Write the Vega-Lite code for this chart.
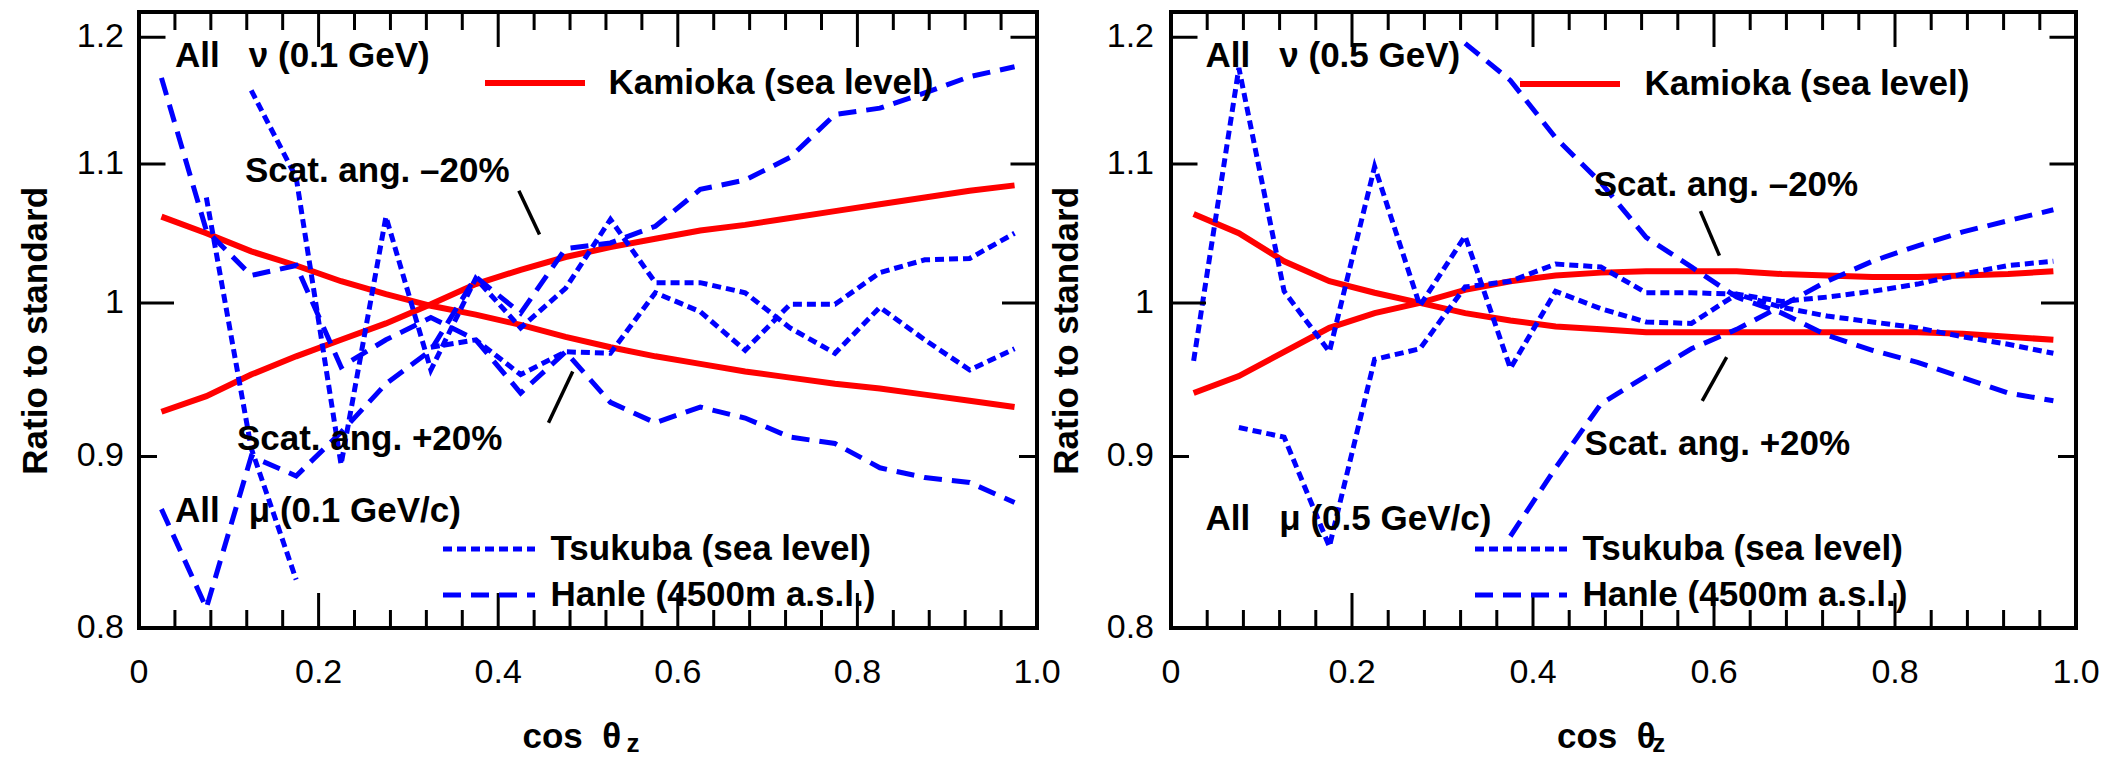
{
 "$schema": "https://vega.github.io/schema/vega-lite/v6.json",
 "background": "white",
 "padding": {"left": 16, "top": 10, "right": 30, "bottom": 0},
 "datasets": {
  "c": [
   {"p":"L","s":"Kamioka (sea level)","id":"K1","x":0.025,"y":0.928},
   {"p":"L","s":"Kamioka (sea level)","id":"K1","x":0.075,"y":0.938},
   {"p":"L","s":"Kamioka (sea level)","id":"K1","x":0.125,"y":0.952},
   {"p":"L","s":"Kamioka (sea level)","id":"K1","x":0.175,"y":0.964},
   {"p":"L","s":"Kamioka (sea level)","id":"K1","x":0.225,"y":0.975},
   {"p":"L","s":"Kamioka (sea level)","id":"K1","x":0.275,"y":0.986},
   {"p":"L","s":"Kamioka (sea level)","id":"K1","x":0.325,"y":0.999},
   {"p":"L","s":"Kamioka (sea level)","id":"K1","x":0.375,"y":1.013},
   {"p":"L","s":"Kamioka (sea level)","id":"K1","x":0.425,"y":1.023},
   {"p":"L","s":"Kamioka (sea level)","id":"K1","x":0.475,"y":1.032},
   {"p":"L","s":"Kamioka (sea level)","id":"K1","x":0.525,"y":1.039},
   {"p":"L","s":"Kamioka (sea level)","id":"K1","x":0.575,"y":1.045},
   {"p":"L","s":"Kamioka (sea level)","id":"K1","x":0.625,"y":1.051},
   {"p":"L","s":"Kamioka (sea level)","id":"K1","x":0.675,"y":1.055},
   {"p":"L","s":"Kamioka (sea level)","id":"K1","x":0.725,"y":1.060},
   {"p":"L","s":"Kamioka (sea level)","id":"K1","x":0.775,"y":1.065},
   {"p":"L","s":"Kamioka (sea level)","id":"K1","x":0.825,"y":1.070},
   {"p":"L","s":"Kamioka (sea level)","id":"K1","x":0.875,"y":1.075},
   {"p":"L","s":"Kamioka (sea level)","id":"K1","x":0.925,"y":1.080},
   {"p":"L","s":"Kamioka (sea level)","id":"K1","x":0.975,"y":1.084},
   {"p":"L","s":"Kamioka (sea level)","id":"K2","x":0.025,"y":1.061},
   {"p":"L","s":"Kamioka (sea level)","id":"K2","x":0.075,"y":1.049},
   {"p":"L","s":"Kamioka (sea level)","id":"K2","x":0.125,"y":1.036},
   {"p":"L","s":"Kamioka (sea level)","id":"K2","x":0.175,"y":1.026},
   {"p":"L","s":"Kamioka (sea level)","id":"K2","x":0.225,"y":1.015},
   {"p":"L","s":"Kamioka (sea level)","id":"K2","x":0.275,"y":1.006},
   {"p":"L","s":"Kamioka (sea level)","id":"K2","x":0.325,"y":0.998},
   {"p":"L","s":"Kamioka (sea level)","id":"K2","x":0.375,"y":0.992},
   {"p":"L","s":"Kamioka (sea level)","id":"K2","x":0.425,"y":0.985},
   {"p":"L","s":"Kamioka (sea level)","id":"K2","x":0.475,"y":0.977},
   {"p":"L","s":"Kamioka (sea level)","id":"K2","x":0.525,"y":0.970},
   {"p":"L","s":"Kamioka (sea level)","id":"K2","x":0.575,"y":0.964},
   {"p":"L","s":"Kamioka (sea level)","id":"K2","x":0.625,"y":0.959},
   {"p":"L","s":"Kamioka (sea level)","id":"K2","x":0.675,"y":0.954},
   {"p":"L","s":"Kamioka (sea level)","id":"K2","x":0.725,"y":0.950},
   {"p":"L","s":"Kamioka (sea level)","id":"K2","x":0.775,"y":0.946},
   {"p":"L","s":"Kamioka (sea level)","id":"K2","x":0.825,"y":0.943},
   {"p":"L","s":"Kamioka (sea level)","id":"K2","x":0.875,"y":0.939},
   {"p":"L","s":"Kamioka (sea level)","id":"K2","x":0.925,"y":0.935},
   {"p":"L","s":"Kamioka (sea level)","id":"K2","x":0.975,"y":0.931},
   {"p":"L","s":"Tsukuba (sea level)","id":"T2","x":0.125,"y":1.157},
   {"p":"L","s":"Tsukuba (sea level)","id":"T2","x":0.175,"y":1.090},
   {"p":"L","s":"Tsukuba (sea level)","id":"T2","x":0.225,"y":0.895},
   {"p":"L","s":"Tsukuba (sea level)","id":"T2","x":0.275,"y":1.061},
   {"p":"L","s":"Tsukuba (sea level)","id":"T2","x":0.325,"y":0.955},
   {"p":"L","s":"Tsukuba (sea level)","id":"T2","x":0.375,"y":1.017},
   {"p":"L","s":"Tsukuba (sea level)","id":"T2","x":0.425,"y":0.983},
   {"p":"L","s":"Tsukuba (sea level)","id":"T2","x":0.475,"y":1.010},
   {"p":"L","s":"Tsukuba (sea level)","id":"T2","x":0.525,"y":1.059},
   {"p":"L","s":"Tsukuba (sea level)","id":"T2","x":0.575,"y":1.014},
   {"p":"L","s":"Tsukuba (sea level)","id":"T2","x":0.625,"y":1.014},
   {"p":"L","s":"Tsukuba (sea level)","id":"T2","x":0.675,"y":1.007},
   {"p":"L","s":"Tsukuba (sea level)","id":"T2","x":0.725,"y":0.983},
   {"p":"L","s":"Tsukuba (sea level)","id":"T2","x":0.775,"y":0.966},
   {"p":"L","s":"Tsukuba (sea level)","id":"T2","x":0.825,"y":0.997},
   {"p":"L","s":"Tsukuba (sea level)","id":"T2","x":0.875,"y":0.975},
   {"p":"L","s":"Tsukuba (sea level)","id":"T2","x":0.925,"y":0.955},
   {"p":"L","s":"Tsukuba (sea level)","id":"T2","x":0.975,"y":0.969},
   {"p":"L","s":"Tsukuba (sea level)","id":"T1a","x":0.075,"y":1.075},
   {"p":"L","s":"Tsukuba (sea level)","id":"T1a","x":0.125,"y":0.905},
   {"p":"L","s":"Tsukuba (sea level)","id":"T1a","x":0.175,"y":0.827},
   {"p":"L","s":"Tsukuba (sea level)","id":"T1b","x":0.325,"y":0.970},
   {"p":"L","s":"Tsukuba (sea level)","id":"T1b","x":0.375,"y":0.975},
   {"p":"L","s":"Tsukuba (sea level)","id":"T1b","x":0.425,"y":0.952},
   {"p":"L","s":"Tsukuba (sea level)","id":"T1b","x":0.475,"y":0.967},
   {"p":"L","s":"Tsukuba (sea level)","id":"T1b","x":0.525,"y":0.966},
   {"p":"L","s":"Tsukuba (sea level)","id":"T1b","x":0.575,"y":1.007},
   {"p":"L","s":"Tsukuba (sea level)","id":"T1b","x":0.625,"y":0.994},
   {"p":"L","s":"Tsukuba (sea level)","id":"T1b","x":0.675,"y":0.968},
   {"p":"L","s":"Tsukuba (sea level)","id":"T1b","x":0.725,"y":0.999},
   {"p":"L","s":"Tsukuba (sea level)","id":"T1b","x":0.775,"y":0.999},
   {"p":"L","s":"Tsukuba (sea level)","id":"T1b","x":0.825,"y":1.021},
   {"p":"L","s":"Tsukuba (sea level)","id":"T1b","x":0.875,"y":1.030},
   {"p":"L","s":"Tsukuba (sea level)","id":"T1b","x":0.925,"y":1.031},
   {"p":"L","s":"Tsukuba (sea level)","id":"T1b","x":0.975,"y":1.049},
   {"p":"L","s":"Hanle (4500m a.s.l.)","id":"H1","x":0.025,"y":0.868},
   {"p":"L","s":"Hanle (4500m a.s.l.)","id":"H1","x":0.075,"y":0.811},
   {"p":"L","s":"Hanle (4500m a.s.l.)","id":"H1","x":0.125,"y":0.900},
   {"p":"L","s":"Hanle (4500m a.s.l.)","id":"H1","x":0.175,"y":0.888},
   {"p":"L","s":"Hanle (4500m a.s.l.)","id":"H1","x":0.225,"y":0.915},
   {"p":"L","s":"Hanle (4500m a.s.l.)","id":"H1","x":0.275,"y":0.946},
   {"p":"L","s":"Hanle (4500m a.s.l.)","id":"H1","x":0.325,"y":0.968},
   {"p":"L","s":"Hanle (4500m a.s.l.)","id":"H1","x":0.375,"y":1.018},
   {"p":"L","s":"Hanle (4500m a.s.l.)","id":"H1","x":0.425,"y":0.993},
   {"p":"L","s":"Hanle (4500m a.s.l.)","id":"H1","x":0.475,"y":1.038},
   {"p":"L","s":"Hanle (4500m a.s.l.)","id":"H1","x":0.525,"y":1.042},
   {"p":"L","s":"Hanle (4500m a.s.l.)","id":"H1","x":0.575,"y":1.054},
   {"p":"L","s":"Hanle (4500m a.s.l.)","id":"H1","x":0.625,"y":1.081},
   {"p":"L","s":"Hanle (4500m a.s.l.)","id":"H1","x":0.675,"y":1.088},
   {"p":"L","s":"Hanle (4500m a.s.l.)","id":"H1","x":0.725,"y":1.105},
   {"p":"L","s":"Hanle (4500m a.s.l.)","id":"H1","x":0.775,"y":1.138},
   {"p":"L","s":"Hanle (4500m a.s.l.)","id":"H1","x":0.825,"y":1.143},
   {"p":"L","s":"Hanle (4500m a.s.l.)","id":"H1","x":0.875,"y":1.155},
   {"p":"L","s":"Hanle (4500m a.s.l.)","id":"H1","x":0.925,"y":1.168},
   {"p":"L","s":"Hanle (4500m a.s.l.)","id":"H1","x":0.975,"y":1.176},
   {"p":"L","s":"Hanle (4500m a.s.l.)","id":"H2","x":0.025,"y":1.167},
   {"p":"L","s":"Hanle (4500m a.s.l.)","id":"H2","x":0.075,"y":1.051},
   {"p":"L","s":"Hanle (4500m a.s.l.)","id":"H2","x":0.125,"y":1.019},
   {"p":"L","s":"Hanle (4500m a.s.l.)","id":"H2","x":0.175,"y":1.026},
   {"p":"L","s":"Hanle (4500m a.s.l.)","id":"H2","x":0.225,"y":0.957},
   {"p":"L","s":"Hanle (4500m a.s.l.)","id":"H2","x":0.275,"y":0.975},
   {"p":"L","s":"Hanle (4500m a.s.l.)","id":"H2","x":0.325,"y":0.990},
   {"p":"L","s":"Hanle (4500m a.s.l.)","id":"H2","x":0.375,"y":0.975},
   {"p":"L","s":"Hanle (4500m a.s.l.)","id":"H2","x":0.425,"y":0.940},
   {"p":"L","s":"Hanle (4500m a.s.l.)","id":"H2","x":0.475,"y":0.967},
   {"p":"L","s":"Hanle (4500m a.s.l.)","id":"H2","x":0.525,"y":0.934},
   {"p":"L","s":"Hanle (4500m a.s.l.)","id":"H2","x":0.575,"y":0.921},
   {"p":"L","s":"Hanle (4500m a.s.l.)","id":"H2","x":0.625,"y":0.931},
   {"p":"L","s":"Hanle (4500m a.s.l.)","id":"H2","x":0.675,"y":0.924},
   {"p":"L","s":"Hanle (4500m a.s.l.)","id":"H2","x":0.725,"y":0.912},
   {"p":"L","s":"Hanle (4500m a.s.l.)","id":"H2","x":0.775,"y":0.908},
   {"p":"L","s":"Hanle (4500m a.s.l.)","id":"H2","x":0.825,"y":0.893},
   {"p":"L","s":"Hanle (4500m a.s.l.)","id":"H2","x":0.875,"y":0.887},
   {"p":"L","s":"Hanle (4500m a.s.l.)","id":"H2","x":0.925,"y":0.884},
   {"p":"L","s":"Hanle (4500m a.s.l.)","id":"H2","x":0.975,"y":0.872},
   {"p":"R","s":"Kamioka (sea level)","id":"K1","x":0.025,"y":0.940},
   {"p":"R","s":"Kamioka (sea level)","id":"K1","x":0.075,"y":0.951},
   {"p":"R","s":"Kamioka (sea level)","id":"K1","x":0.125,"y":0.967},
   {"p":"R","s":"Kamioka (sea level)","id":"K1","x":0.175,"y":0.983},
   {"p":"R","s":"Kamioka (sea level)","id":"K1","x":0.225,"y":0.993},
   {"p":"R","s":"Kamioka (sea level)","id":"K1","x":0.275,"y":1.000},
   {"p":"R","s":"Kamioka (sea level)","id":"K1","x":0.325,"y":1.009},
   {"p":"R","s":"Kamioka (sea level)","id":"K1","x":0.375,"y":1.015},
   {"p":"R","s":"Kamioka (sea level)","id":"K1","x":0.425,"y":1.019},
   {"p":"R","s":"Kamioka (sea level)","id":"K1","x":0.475,"y":1.021},
   {"p":"R","s":"Kamioka (sea level)","id":"K1","x":0.525,"y":1.022},
   {"p":"R","s":"Kamioka (sea level)","id":"K1","x":0.575,"y":1.022},
   {"p":"R","s":"Kamioka (sea level)","id":"K1","x":0.625,"y":1.022},
   {"p":"R","s":"Kamioka (sea level)","id":"K1","x":0.675,"y":1.020},
   {"p":"R","s":"Kamioka (sea level)","id":"K1","x":0.725,"y":1.019},
   {"p":"R","s":"Kamioka (sea level)","id":"K1","x":0.775,"y":1.018},
   {"p":"R","s":"Kamioka (sea level)","id":"K1","x":0.825,"y":1.018},
   {"p":"R","s":"Kamioka (sea level)","id":"K1","x":0.875,"y":1.019},
   {"p":"R","s":"Kamioka (sea level)","id":"K1","x":0.925,"y":1.020},
   {"p":"R","s":"Kamioka (sea level)","id":"K1","x":0.975,"y":1.022},
   {"p":"R","s":"Kamioka (sea level)","id":"K2","x":0.025,"y":1.063},
   {"p":"R","s":"Kamioka (sea level)","id":"K2","x":0.075,"y":1.049},
   {"p":"R","s":"Kamioka (sea level)","id":"K2","x":0.125,"y":1.029},
   {"p":"R","s":"Kamioka (sea level)","id":"K2","x":0.175,"y":1.015},
   {"p":"R","s":"Kamioka (sea level)","id":"K2","x":0.225,"y":1.007},
   {"p":"R","s":"Kamioka (sea level)","id":"K2","x":0.275,"y":1.000},
   {"p":"R","s":"Kamioka (sea level)","id":"K2","x":0.325,"y":0.993},
   {"p":"R","s":"Kamioka (sea level)","id":"K2","x":0.375,"y":0.988},
   {"p":"R","s":"Kamioka (sea level)","id":"K2","x":0.425,"y":0.984},
   {"p":"R","s":"Kamioka (sea level)","id":"K2","x":0.475,"y":0.982},
   {"p":"R","s":"Kamioka (sea level)","id":"K2","x":0.525,"y":0.980},
   {"p":"R","s":"Kamioka (sea level)","id":"K2","x":0.575,"y":0.980},
   {"p":"R","s":"Kamioka (sea level)","id":"K2","x":0.625,"y":0.980},
   {"p":"R","s":"Kamioka (sea level)","id":"K2","x":0.675,"y":0.980},
   {"p":"R","s":"Kamioka (sea level)","id":"K2","x":0.725,"y":0.980},
   {"p":"R","s":"Kamioka (sea level)","id":"K2","x":0.775,"y":0.980},
   {"p":"R","s":"Kamioka (sea level)","id":"K2","x":0.825,"y":0.980},
   {"p":"R","s":"Kamioka (sea level)","id":"K2","x":0.875,"y":0.979},
   {"p":"R","s":"Kamioka (sea level)","id":"K2","x":0.925,"y":0.977},
   {"p":"R","s":"Kamioka (sea level)","id":"K2","x":0.975,"y":0.975},
   {"p":"R","s":"Tsukuba (sea level)","id":"TA","x":0.025,"y":0.961},
   {"p":"R","s":"Tsukuba (sea level)","id":"TA","x":0.075,"y":1.175},
   {"p":"R","s":"Tsukuba (sea level)","id":"TA","x":0.125,"y":1.008},
   {"p":"R","s":"Tsukuba (sea level)","id":"TA","x":0.175,"y":0.967},
   {"p":"R","s":"Tsukuba (sea level)","id":"TA","x":0.225,"y":1.098},
   {"p":"R","s":"Tsukuba (sea level)","id":"TA","x":0.275,"y":0.998},
   {"p":"R","s":"Tsukuba (sea level)","id":"TA","x":0.325,"y":1.047},
   {"p":"R","s":"Tsukuba (sea level)","id":"TA","x":0.375,"y":0.956},
   {"p":"R","s":"Tsukuba (sea level)","id":"TA","x":0.425,"y":1.008},
   {"p":"R","s":"Tsukuba (sea level)","id":"TA","x":0.475,"y":0.996},
   {"p":"R","s":"Tsukuba (sea level)","id":"TA","x":0.525,"y":0.987},
   {"p":"R","s":"Tsukuba (sea level)","id":"TA","x":0.575,"y":0.986},
   {"p":"R","s":"Tsukuba (sea level)","id":"TA","x":0.625,"y":1.006},
   {"p":"R","s":"Tsukuba (sea level)","id":"TA","x":0.675,"y":1.001},
   {"p":"R","s":"Tsukuba (sea level)","id":"TA","x":0.725,"y":1.004},
   {"p":"R","s":"Tsukuba (sea level)","id":"TA","x":0.775,"y":1.008},
   {"p":"R","s":"Tsukuba (sea level)","id":"TA","x":0.825,"y":1.013},
   {"p":"R","s":"Tsukuba (sea level)","id":"TA","x":0.875,"y":1.020},
   {"p":"R","s":"Tsukuba (sea level)","id":"TA","x":0.925,"y":1.026},
   {"p":"R","s":"Tsukuba (sea level)","id":"TA","x":0.975,"y":1.029},
   {"p":"R","s":"Tsukuba (sea level)","id":"TB","x":0.075,"y":0.918},
   {"p":"R","s":"Tsukuba (sea level)","id":"TB","x":0.125,"y":0.912},
   {"p":"R","s":"Tsukuba (sea level)","id":"TB","x":0.175,"y":0.846},
   {"p":"R","s":"Tsukuba (sea level)","id":"TB","x":0.225,"y":0.962},
   {"p":"R","s":"Tsukuba (sea level)","id":"TB","x":0.275,"y":0.969},
   {"p":"R","s":"Tsukuba (sea level)","id":"TB","x":0.325,"y":1.011},
   {"p":"R","s":"Tsukuba (sea level)","id":"TB","x":0.375,"y":1.015},
   {"p":"R","s":"Tsukuba (sea level)","id":"TB","x":0.425,"y":1.027},
   {"p":"R","s":"Tsukuba (sea level)","id":"TB","x":0.475,"y":1.025},
   {"p":"R","s":"Tsukuba (sea level)","id":"TB","x":0.525,"y":1.007},
   {"p":"R","s":"Tsukuba (sea level)","id":"TB","x":0.575,"y":1.007},
   {"p":"R","s":"Tsukuba (sea level)","id":"TB","x":0.625,"y":1.006},
   {"p":"R","s":"Tsukuba (sea level)","id":"TB","x":0.675,"y":0.997},
   {"p":"R","s":"Tsukuba (sea level)","id":"TB","x":0.725,"y":0.991},
   {"p":"R","s":"Tsukuba (sea level)","id":"TB","x":0.775,"y":0.987},
   {"p":"R","s":"Tsukuba (sea level)","id":"TB","x":0.825,"y":0.983},
   {"p":"R","s":"Tsukuba (sea level)","id":"TB","x":0.875,"y":0.977},
   {"p":"R","s":"Tsukuba (sea level)","id":"TB","x":0.925,"y":0.972},
   {"p":"R","s":"Tsukuba (sea level)","id":"TB","x":0.975,"y":0.966},
   {"p":"R","s":"Hanle (4500m a.s.l.)","id":"H1","x":0.375,"y":0.852},
   {"p":"R","s":"Hanle (4500m a.s.l.)","id":"H1","x":0.425,"y":0.893},
   {"p":"R","s":"Hanle (4500m a.s.l.)","id":"H1","x":0.475,"y":0.933},
   {"p":"R","s":"Hanle (4500m a.s.l.)","id":"H1","x":0.525,"y":0.951},
   {"p":"R","s":"Hanle (4500m a.s.l.)","id":"H1","x":0.575,"y":0.969},
   {"p":"R","s":"Hanle (4500m a.s.l.)","id":"H1","x":0.625,"y":0.982},
   {"p":"R","s":"Hanle (4500m a.s.l.)","id":"H1","x":0.675,"y":0.998},
   {"p":"R","s":"Hanle (4500m a.s.l.)","id":"H1","x":0.725,"y":1.015},
   {"p":"R","s":"Hanle (4500m a.s.l.)","id":"H1","x":0.775,"y":1.029},
   {"p":"R","s":"Hanle (4500m a.s.l.)","id":"H1","x":0.825,"y":1.040},
   {"p":"R","s":"Hanle (4500m a.s.l.)","id":"H1","x":0.875,"y":1.050},
   {"p":"R","s":"Hanle (4500m a.s.l.)","id":"H1","x":0.925,"y":1.058},
   {"p":"R","s":"Hanle (4500m a.s.l.)","id":"H1","x":0.975,"y":1.066},
   {"p":"R","s":"Hanle (4500m a.s.l.)","id":"H2","x":0.325,"y":1.195},
   {"p":"R","s":"Hanle (4500m a.s.l.)","id":"H2","x":0.375,"y":1.165},
   {"p":"R","s":"Hanle (4500m a.s.l.)","id":"H2","x":0.425,"y":1.120},
   {"p":"R","s":"Hanle (4500m a.s.l.)","id":"H2","x":0.475,"y":1.086},
   {"p":"R","s":"Hanle (4500m a.s.l.)","id":"H2","x":0.525,"y":1.046},
   {"p":"R","s":"Hanle (4500m a.s.l.)","id":"H2","x":0.575,"y":1.025},
   {"p":"R","s":"Hanle (4500m a.s.l.)","id":"H2","x":0.625,"y":1.004},
   {"p":"R","s":"Hanle (4500m a.s.l.)","id":"H2","x":0.675,"y":0.993},
   {"p":"R","s":"Hanle (4500m a.s.l.)","id":"H2","x":0.725,"y":0.978},
   {"p":"R","s":"Hanle (4500m a.s.l.)","id":"H2","x":0.775,"y":0.968},
   {"p":"R","s":"Hanle (4500m a.s.l.)","id":"H2","x":0.825,"y":0.960},
   {"p":"R","s":"Hanle (4500m a.s.l.)","id":"H2","x":0.875,"y":0.950},
   {"p":"R","s":"Hanle (4500m a.s.l.)","id":"H2","x":0.925,"y":0.940},
   {"p":"R","s":"Hanle (4500m a.s.l.)","id":"H2","x":0.975,"y":0.935}
  ],
  "a": [
   {"p":"L","k":"all","t":"All\u00a0\u00a0\u00a0ν (0.1 GeV)","x":0.04,"y":1.185},
   {"p":"L","k":"all","t":"All\u00a0\u00a0\u00a0μ (0.1 GeV/c)","x":0.04,"y":0.867},
   {"p":"L","k":"scat","t":"Scat. ang. –20%","x":0.118,"y":1.095},
   {"p":"L","k":"scat","t":"Scat. ang. +20%","x":0.109,"y":0.911},
   {"p":"L","k":"z","t":"z","x":0.55,"y":0.7388},
   {"p":"R","k":"all","t":"All\u00a0\u00a0\u00a0ν (0.5 GeV)","x":0.038,"y":1.185},
   {"p":"R","k":"all","t":"All\u00a0\u00a0\u00a0μ (0.5 GeV/c)","x":0.038,"y":0.862},
   {"p":"R","k":"scat","t":"Scat. ang. –20%","x":0.467,"y":1.084},
   {"p":"R","k":"scat","t":"Scat. ang. +20%","x":0.457,"y":0.908},
   {"p":"R","k":"z","t":"z","x":0.539,"y":0.7388}
  ],
  "r": [
   {"p":"L","x":0.423,"y":1.080,"x2":0.446,"y2":1.048},
   {"p":"L","x":0.483,"y":0.954,"x2":0.456,"y2":0.921},
   {"p":"R","x":0.585,"y":1.065,"x2":0.606,"y2":1.033},
   {"p":"R","x":0.614,"y":0.9635,"x2":0.587,"y2":0.935}
  ],
  "tx": [
   {"v":0.2,"m":"maj"},{"v":0.4,"m":"maj"},{"v":0.6,"m":"maj"},{"v":0.8,"m":"maj"},
   {"v":0.04,"m":"min"},{"v":0.08,"m":"min"},{"v":0.12,"m":"min"},{"v":0.16,"m":"min"},
   {"v":0.24,"m":"min"},{"v":0.28,"m":"min"},{"v":0.32,"m":"min"},{"v":0.36,"m":"min"},
   {"v":0.44,"m":"min"},{"v":0.48,"m":"min"},{"v":0.52,"m":"min"},{"v":0.56,"m":"min"},
   {"v":0.64,"m":"min"},{"v":0.68,"m":"min"},{"v":0.72,"m":"min"},{"v":0.76,"m":"min"},
   {"v":0.84,"m":"min"},{"v":0.88,"m":"min"},{"v":0.92,"m":"min"},{"v":0.96,"m":"min"}
  ],
  "ty": [
   {"v":1.2,"m":"mid"},{"v":1.1,"m":"mid"},{"v":1.0,"m":"maj"},{"v":0.9,"m":"min"}
  ],
  "xl": [
   {"v":0,"l":"0"},{"v":0.2,"l":"0.2"},{"v":0.4,"l":"0.4"},{"v":0.6,"l":"0.6"},{"v":0.8,"l":"0.8"},{"v":1,"l":"1.0"}
  ],
  "yl": [
   {"v":0.8,"l":"0.8"},{"v":0.9,"l":"0.9"},{"v":1,"l":"1"},{"v":1.1,"l":"1.1"},{"v":1.2,"l":"1.2"}
  ],
  "ti": [
   {"p":"L","k":"x","t":"cos\u00a0\u00a0θ","x":0.482},
   {"p":"R","k":"x","t":"cos\u00a0\u00a0θ","x":0.481},
   {"p":"L","k":"y","t":"Ratio to standard","x":0},
   {"p":"R","k":"y","t":"Ratio to standard","x":0}
  ]
 },
 "spacing": 134,
 "bounds": "flush",
 "resolve": {"scale": {"color": "independent", "strokeDash": "independent"}},
 "hconcat": [
  {
   "width": 898, "height": 616,
   "layer": [
    {
     "data": {"name": "c"},
     "transform": [{"filter": "datum.p == 'L' && datum.s == 'Kamioka (sea level)'"}],
     "mark": {"type": "line", "strokeWidth": 6},
     "encoding": {
      "x": {"field": "x", "type": "quantitative", "scale": {"domain": [0, 1], "nice": false, "zero": false}, "axis": null},
      "y": {"field": "y", "type": "quantitative", "scale": {"type": "log", "domain": [0.8, 1.221], "nice": false}, "axis": null},
      "color": {"field": "s", "type": "nominal", "scale": {"domain": ["Kamioka (sea level)"], "range": ["#ff0000"]},
                "legend": {"orient": "none", "legendX": 346, "legendY": 53.5, "title": null, "symbolType": "M-10,0H10", "symbolSize": 100, "symbolStrokeWidth": 6, "symbolOffset": 32.5, "labelOffset": 56, "labelFontSize": 35, "labelFontWeight": "bold", "labelLimit": 600}},
      "detail": {"field": "id"}
     }
    },
    {
     "data": {"name": "c"},
     "transform": [{"filter": "datum.p == 'L' && datum.s != 'Kamioka (sea level)'"}],
     "mark": {"type": "line", "strokeWidth": 5, "color": "#0000ff"},
     "encoding": {
      "x": {"field": "x", "type": "quantitative", "scale": {"domain": [0, 1], "nice": false, "zero": false}, "axis": null},
      "y": {"field": "y", "type": "quantitative", "scale": {"type": "log", "domain": [0.8, 1.221], "nice": false}, "axis": null},
      "strokeDash": {"field": "s", "type": "nominal", "scale": {"domain": ["Tsukuba (sea level)", "Hanle (4500m a.s.l.)"], "range": [[9, 5], [18, 10]]},
                "legend": {"orient": "none", "legendX": 304, "legendY": 519.5, "title": null, "symbolType": "M-10,0H10", "symbolSize": 84.64, "symbolStrokeWidth": 5, "symbolStrokeColor": "#0000ff", "symbolOffset": 28.5, "labelOffset": 44, "rowPadding": 10, "labelFontSize": 35, "labelFontWeight": "bold", "labelLimit": 600}},
      "detail": {"field": "id"}
     }
    },
    {
     "data": {"name": "a"},
     "transform": [{"filter": "datum.p == 'L' && datum.k != 'z'"}],
     "mark": {"type": "text", "align": "left", "baseline": "middle", "fontSize": 35, "fontWeight": "bold"},
     "encoding": {
      "x": {"field": "x", "type": "quantitative", "axis": null},
      "y": {"field": "y", "type": "quantitative", "axis": null},
      "text": {"field": "t"}
     }
    },
    {
     "data": {"name": "a"},
     "transform": [{"filter": "datum.p == 'L' && datum.k == 'z'"}],
     "mark": {"type": "text", "align": "center", "baseline": "middle", "fontSize": 26, "fontWeight": "bold"},
     "encoding": {
      "x": {"field": "x", "type": "quantitative", "axis": null},
      "y": {"field": "y", "type": "quantitative", "axis": null},
      "text": {"field": "t"}
     }
    },
    {
     "data": {"name": "r"},
     "transform": [{"filter": "datum.p == 'L'"}],
     "mark": {"type": "rule", "strokeWidth": 3.5, "color": "black"},
     "encoding": {
      "x": {"field": "x", "type": "quantitative", "axis": null},
      "y": {"field": "y", "type": "quantitative", "axis": null},
      "x2": {"field": "x2"},
      "y2": {"field": "y2"}
     }
    },
    {
     "data": {"name": "tx"},
     "mark": {"type": "tick", "orient": "vertical", "clip": true, "thickness": 3, "color": "black", "opacity": 1},
     "encoding": {
      "x": {"field": "v", "type": "quantitative", "axis": null},
      "y": {"datum": 0.8, "type": "quantitative", "axis": null},
      "size": {"field": "m", "type": "ordinal", "scale": {"domain": ["maj", "mid", "min"], "range": [70, 36, 24]}, "legend": null}
     }
    },
    {
     "data": {"name": "tx"},
     "mark": {"type": "tick", "orient": "vertical", "clip": true, "thickness": 3, "color": "black", "opacity": 1},
     "encoding": {
      "x": {"field": "v", "type": "quantitative", "axis": null},
      "y": {"datum": 1.221, "type": "quantitative", "axis": null},
      "size": {"field": "m", "type": "ordinal", "scale": {"domain": ["maj", "mid", "min"], "range": [70, 36, 24]}, "legend": null}
     }
    },
    {
     "data": {"name": "ty"},
     "mark": {"type": "tick", "orient": "horizontal", "clip": true, "thickness": 3, "color": "black", "opacity": 1},
     "encoding": {
      "x": {"datum": 0, "type": "quantitative", "axis": null},
      "y": {"field": "v", "type": "quantitative", "axis": null},
      "size": {"field": "m", "type": "ordinal", "scale": {"domain": ["maj", "mid", "min"], "range": [70, 36, 24]}, "legend": null}
     }
    },
    {
     "data": {"name": "ty"},
     "mark": {"type": "tick", "orient": "horizontal", "clip": true, "thickness": 3, "color": "black", "opacity": 1},
     "encoding": {
      "x": {"datum": 1, "type": "quantitative", "axis": null},
      "y": {"field": "v", "type": "quantitative", "axis": null},
      "size": {"field": "m", "type": "ordinal", "scale": {"domain": ["maj", "mid", "min"], "range": [70, 36, 24]}, "legend": null}
     }
    },
    {
     "data": {"name": "xl"},
     "mark": {"type": "text", "align": "center", "baseline": "middle", "dy": 45, "fontSize": 34, "fontWeight": "normal"},
     "encoding": {
      "x": {"field": "v", "type": "quantitative", "axis": null},
      "y": {"datum": 0.8, "type": "quantitative", "axis": null},
      "text": {"field": "l"}
     }
    },
    {
     "data": {"name": "yl"},
     "mark": {"type": "text", "align": "right", "baseline": "middle", "dx": -15, "fontSize": 34, "fontWeight": "normal"},
     "encoding": {
      "x": {"datum": 0, "type": "quantitative", "axis": null},
      "y": {"field": "v", "type": "quantitative", "axis": null},
      "text": {"field": "l"}
     }
    },
    {
     "data": {"name": "ti"},
     "transform": [{"filter": "datum.p == 'L' && datum.k == 'x'"}],
     "mark": {"type": "text", "align": "center", "baseline": "middle", "dy": 109, "fontSize": 35, "fontWeight": "bold"},
     "encoding": {
      "x": {"field": "x", "type": "quantitative", "axis": null},
      "y": {"datum": 0.8, "type": "quantitative", "axis": null},
      "text": {"field": "t"}
     }
    },
    {
     "data": {"name": "ti"},
     "transform": [{"filter": "datum.p == 'L' && datum.k == 'y'"}],
     "mark": {"type": "text", "align": "center", "baseline": "middle", "angle": 270, "dy": -103, "fontSize": 35, "fontWeight": "bold"},
     "encoding": {
      "x": {"field": "x", "type": "quantitative", "axis": null},
      "y": {"datum": 0.981, "type": "quantitative", "axis": null},
      "text": {"field": "t"}
     }
    }
   ]
  },
  {
   "width": 905, "height": 616,
   "layer": [
    {
     "data": {"name": "c"},
     "transform": [{"filter": "datum.p == 'R' && datum.s == 'Kamioka (sea level)'"}],
     "mark": {"type": "line", "strokeWidth": 6},
     "encoding": {
      "x": {"field": "x", "type": "quantitative", "scale": {"domain": [0, 1], "nice": false, "zero": false}, "axis": null},
      "y": {"field": "y", "type": "quantitative", "scale": {"type": "log", "domain": [0.8, 1.221], "nice": false}, "axis": null},
      "color": {"field": "s", "type": "nominal", "scale": {"domain": ["Kamioka (sea level)"], "range": ["#ff0000"]},
                "legend": {"orient": "none", "legendX": 349, "legendY": 54.5, "title": null, "symbolType": "M-10,0H10", "symbolSize": 100, "symbolStrokeWidth": 6, "symbolOffset": 32.5, "labelOffset": 57, "labelFontSize": 35, "labelFontWeight": "bold", "labelLimit": 600}},
      "detail": {"field": "id"}
     }
    },
    {
     "data": {"name": "c"},
     "transform": [{"filter": "datum.p == 'R' && datum.s != 'Kamioka (sea level)'"}],
     "mark": {"type": "line", "strokeWidth": 5, "color": "#0000ff"},
     "encoding": {
      "x": {"field": "x", "type": "quantitative", "scale": {"domain": [0, 1], "nice": false, "zero": false}, "axis": null},
      "y": {"field": "y", "type": "quantitative", "scale": {"type": "log", "domain": [0.8, 1.221], "nice": false}, "axis": null},
      "strokeDash": {"field": "s", "type": "nominal", "scale": {"domain": ["Tsukuba (sea level)", "Hanle (4500m a.s.l.)"], "range": [[9, 5], [18, 10]]},
                "legend": {"orient": "none", "legendX": 304, "legendY": 519.5, "title": null, "symbolType": "M-10,0H10", "symbolSize": 84.64, "symbolStrokeWidth": 5, "symbolStrokeColor": "#0000ff", "symbolOffset": 28.5, "labelOffset": 44, "rowPadding": 10, "labelFontSize": 35, "labelFontWeight": "bold", "labelLimit": 600}},
      "detail": {"field": "id"}
     }
    },
    {
     "data": {"name": "a"},
     "transform": [{"filter": "datum.p == 'R' && datum.k != 'z'"}],
     "mark": {"type": "text", "align": "left", "baseline": "middle", "fontSize": 35, "fontWeight": "bold"},
     "encoding": {
      "x": {"field": "x", "type": "quantitative", "axis": null},
      "y": {"field": "y", "type": "quantitative", "axis": null},
      "text": {"field": "t"}
     }
    },
    {
     "data": {"name": "a"},
     "transform": [{"filter": "datum.p == 'R' && datum.k == 'z'"}],
     "mark": {"type": "text", "align": "center", "baseline": "middle", "fontSize": 26, "fontWeight": "bold"},
     "encoding": {
      "x": {"field": "x", "type": "quantitative", "axis": null},
      "y": {"field": "y", "type": "quantitative", "axis": null},
      "text": {"field": "t"}
     }
    },
    {
     "data": {"name": "r"},
     "transform": [{"filter": "datum.p == 'R'"}],
     "mark": {"type": "rule", "strokeWidth": 3.5, "color": "black"},
     "encoding": {
      "x": {"field": "x", "type": "quantitative", "axis": null},
      "y": {"field": "y", "type": "quantitative", "axis": null},
      "x2": {"field": "x2"},
      "y2": {"field": "y2"}
     }
    },
    {
     "data": {"name": "tx"},
     "mark": {"type": "tick", "orient": "vertical", "clip": true, "thickness": 3, "color": "black", "opacity": 1},
     "encoding": {
      "x": {"field": "v", "type": "quantitative", "axis": null},
      "y": {"datum": 0.8, "type": "quantitative", "axis": null},
      "size": {"field": "m", "type": "ordinal", "scale": {"domain": ["maj", "mid", "min"], "range": [70, 36, 24]}, "legend": null}
     }
    },
    {
     "data": {"name": "tx"},
     "mark": {"type": "tick", "orient": "vertical", "clip": true, "thickness": 3, "color": "black", "opacity": 1},
     "encoding": {
      "x": {"field": "v", "type": "quantitative", "axis": null},
      "y": {"datum": 1.221, "type": "quantitative", "axis": null},
      "size": {"field": "m", "type": "ordinal", "scale": {"domain": ["maj", "mid", "min"], "range": [70, 36, 24]}, "legend": null}
     }
    },
    {
     "data": {"name": "ty"},
     "mark": {"type": "tick", "orient": "horizontal", "clip": true, "thickness": 3, "color": "black", "opacity": 1},
     "encoding": {
      "x": {"datum": 0, "type": "quantitative", "axis": null},
      "y": {"field": "v", "type": "quantitative", "axis": null},
      "size": {"field": "m", "type": "ordinal", "scale": {"domain": ["maj", "mid", "min"], "range": [70, 36, 24]}, "legend": null}
     }
    },
    {
     "data": {"name": "ty"},
     "mark": {"type": "tick", "orient": "horizontal", "clip": true, "thickness": 3, "color": "black", "opacity": 1},
     "encoding": {
      "x": {"datum": 1, "type": "quantitative", "axis": null},
      "y": {"field": "v", "type": "quantitative", "axis": null},
      "size": {"field": "m", "type": "ordinal", "scale": {"domain": ["maj", "mid", "min"], "range": [70, 36, 24]}, "legend": null}
     }
    },
    {
     "data": {"name": "xl"},
     "mark": {"type": "text", "align": "center", "baseline": "middle", "dy": 45, "fontSize": 34, "fontWeight": "normal"},
     "encoding": {
      "x": {"field": "v", "type": "quantitative", "axis": null},
      "y": {"datum": 0.8, "type": "quantitative", "axis": null},
      "text": {"field": "l"}
     }
    },
    {
     "data": {"name": "yl"},
     "mark": {"type": "text", "align": "right", "baseline": "middle", "dx": -17, "fontSize": 34, "fontWeight": "normal"},
     "encoding": {
      "x": {"datum": 0, "type": "quantitative", "axis": null},
      "y": {"field": "v", "type": "quantitative", "axis": null},
      "text": {"field": "l"}
     }
    },
    {
     "data": {"name": "ti"},
     "transform": [{"filter": "datum.p == 'R' && datum.k == 'x'"}],
     "mark": {"type": "text", "align": "center", "baseline": "middle", "dy": 109, "fontSize": 35, "fontWeight": "bold"},
     "encoding": {
      "x": {"field": "x", "type": "quantitative", "axis": null},
      "y": {"datum": 0.8, "type": "quantitative", "axis": null},
      "text": {"field": "t"}
     }
    },
    {
     "data": {"name": "ti"},
     "transform": [{"filter": "datum.p == 'R' && datum.k == 'y'"}],
     "mark": {"type": "text", "align": "center", "baseline": "middle", "angle": 270, "dy": -104, "fontSize": 35, "fontWeight": "bold"},
     "encoding": {
      "x": {"field": "x", "type": "quantitative", "axis": null},
      "y": {"datum": 0.981, "type": "quantitative", "axis": null},
      "text": {"field": "t"}
     }
    }
   ]
  }
 ],
 "config": {
  "font": "Liberation Sans",
  "view": {"stroke": "black", "strokeWidth": 4},
  "axis": {"grid": false, "domain": false},
  "legend": {"labelColor": "black", "labelFont": "Liberation Sans", "padding": 0},
  "text": {"font": "Liberation Sans", "color": "black"}
 }
}
